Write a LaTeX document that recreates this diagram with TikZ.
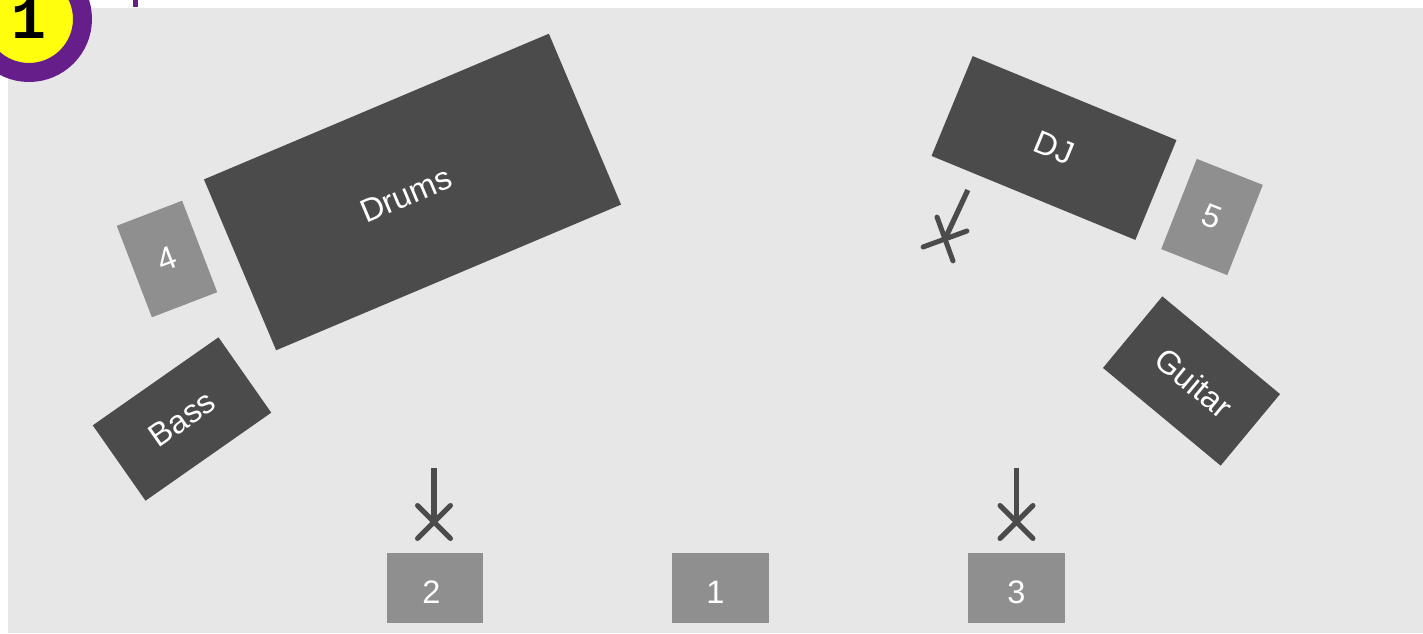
\documentclass[tikz,border=0pt]{standalone}
\usepackage{fontspec}
\setmainfont{Liberation Sans}
\newfontfamily\badgefont{Liberation Mono}
\definecolor{StageGrey}{RGB}{231,231,231}
\definecolor{GearDark}{RGB}{75,75,75}
\definecolor{MonitorGrey}{RGB}{143,143,143}
\definecolor{BadgePurple}{RGB}{102,30,138}
\definecolor{BadgeYellow}{RGB}{255,255,13}
\tikzset{
  gear/.style={fill=GearDark,text=white,inner sep=0pt,outer sep=0pt,
    font=\fontsize{18.5}{22}\selectfont},
  monitor/.style={fill=MonitorGrey,text=white,inner sep=0pt,outer sep=0pt,
    font=\fontsize{18.5}{22}\selectfont},
  floorbox/.style={monitor,minimum width=1.94cm,minimum height=1.40cm,
    text height=17.8pt,text depth=0pt},
  badge/.style={circle,draw=BadgePurple,fill=BadgeYellow,line width=0.38cm,
    minimum size=2.14cm,inner sep=0pt,outer sep=0pt,text=black,
    font=\badgefont\bfseries\fontsize{33}{38}\selectfont},
  micstem/.style={draw=GearDark,line width=0.105cm},
  micarm/.style={draw=GearDark,line width=0.1cm,line cap=round},
  pics/mic/.style={code={
    \draw[micstem] (0,0) -- (0,54);
    \draw[micarm] (-16.5,-16.5) -- (16.5,16.5);
    \draw[micarm] (-16.5,16.5) -- (16.5,-16.5);
  }}
}

\begin{document}
\begin{tikzpicture}[x=0.02cm,y=0.02cm]

\clip (0,0) rectangle (1423,633);
\useasboundingbox (0,0) rectangle (1423,633);

% stage
\fill[StageGrey] (8,0) rectangle (1423,625);

% instruments
\node[gear,minimum width=7.49cm,minimum height=3.71cm,rotate=22.9] (drums) at (412.5,441) {Drums\kern0.28cm};
\node[gear,minimum width=3.07cm,minimum height=1.84cm,rotate=35] (bass) at (182,214) {Bass};
\node[gear,minimum width=4.41cm,minimum height=2.16cm,rotate=-22.4] (dj) at (1054,485) {DJ};
\node[gear,minimum width=3.06cm,minimum height=1.86cm,rotate=-39.7] (guitar) at (1191.5,252) {\kern0.12cm Guitar};

% monitors
\node[monitor,minimum width=1.40cm,minimum height=1.96cm,rotate=21] (mon4) at (167,374) {4};
\node[monitor,minimum width=1.42cm,minimum height=1.94cm,rotate=-21.5] (mon5) at (1212,416) {5};
\node[floorbox] (mon2) at (435,45) {2\kern0.14cm};
\node[floorbox] (mon1) at (720,45) {1\kern0.18cm};
\node[floorbox] (mon3) at (1016.5,45) {3};

% microphones
\pic at (434,111) {mic};
\pic at (1016.5,111) {mic};
\pic[rotate=-25] at (945,394) {mic};

% number badge
\node[badge] (badge) at (29,614) {1};
\draw[BadgePurple,line width=0.1cm] (135.5,633) -- (135.5,626);

\end{tikzpicture}
\end{document}
